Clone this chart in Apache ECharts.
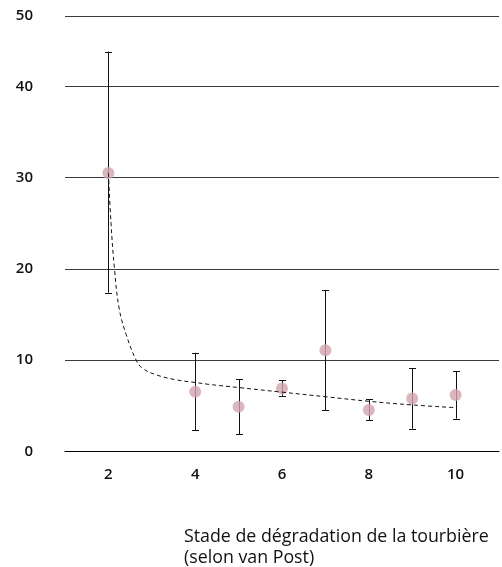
<!DOCTYPE html>
<html>
<head>
<meta charset="utf-8">
<script src="https://cdn.jsdelivr.net/npm/echarts@6/dist/echarts.min.js"></script>
<style>
  html,body{margin:0;padding:0;background:#fff;}
  #main{width:502px;height:567px;}
</style>
</head>
<body>
<div id="main"></div>
<script>
var stages=[2,4,5,6,7,8,9,10];
var means=[30.5,6.55,4.9,6.9,11.1,4.55,5.8,6.2];
var errHigh=[43.8,10.8,7.9,7.8,17.7,5.7,9.1,8.8];
var errLow=[17.4,2.35,1.9,6.1,4.5,3.4,2.5,3.6];

// tendance
var trendX=[2,2.06,2.14,2.25,2.41,2.64,2.79,3.1,3.56,4.02,4.32,5.01,6,7,8,9,10];
var trendY=[30.5,25,20,15.6,12.8,10,9.1,8.4,7.85,7.55,7.35,7.0,6.5,6.0,5.5,5.1,4.8];

var yTicks=[0,10,20,30,40,50];

var myChart=echarts.init(document.getElementById('main'));

var pts=[];
var bars=[];
for(var i=0;i<stages.length;i++){
  pts.push([stages[i],means[i]]);
  bars.push([stages[i],errLow[i],errHigh[i]]);
}
var trend=[];
for(var j=0;j<trendX.length;j++){
  trend.push([trendX[j],trendY[j]]);
}

var font="'Open Sans', 'Noto Sans', sans-serif";

var option={
  animation:false,
  title:{
    text:'Stade de dégradation de la tourbière\n(selon van Post)',
    left:179,
    top:521,
    textStyle:{
      fontFamily:font,
      fontSize:17.8,
      fontWeight:'normal',
      color:'#111',
      lineHeight:21
    }
  },
  grid:{
    left:65,
    right:0,
    top:16,
    bottom:115.5
  },
  xAxis:{
    type:'value',
    min:1,
    max:11,
    interval:1,
    axisLine:{show:true,lineStyle:{color:'#000',width:1}},
    axisTick:{show:false},
    splitLine:{show:false},
    axisLabel:{
      margin:16,
      fontFamily:font,
      fontSize:15,
      fontWeight:600,
      color:'#111',
      formatter:function(v){
        return (v%2===0&&v>=2&&v<=10)?String(v):'';
      }
    }
  },
  yAxis:{
    type:'value',
    min:0,
    max:47.7,
    interval:10,
    axisLine:{show:false},
    axisTick:{show:false},
    splitLine:{lineStyle:{color:'#3a3a3a',width:1}},
    axisLabel:{
      margin:32,
      fontFamily:font,
      fontSize:15,
      fontWeight:600,
      color:'#111',
      formatter:function(v){
        if(v>45) return String(yTicks[5]);
        return String(v);
      }
    }
  },
  series:[
    {
      type:'custom',
      data:bars,
      z:2,
      renderItem:function(params,api){
        var x=api.value(0);
        var lo=api.coord([x,api.value(1)]);
        var hi=api.coord([x,api.value(2)]);
        var cx=Math.round(lo[0])+0.5;
        var cap=3.5;
        var st={stroke:'#111',lineWidth:1};
        return {
          type:'group',
          children:[
            {type:'line',shape:{x1:cx,y1:hi[1],x2:cx,y2:lo[1]},style:st},
            {type:'line',shape:{x1:cx-cap,y1:Math.round(hi[1])+0.5,x2:cx+cap,y2:Math.round(hi[1])+0.5},style:st},
            {type:'line',shape:{x1:cx-cap,y1:Math.round(lo[1])+0.5,x2:cx+cap,y2:Math.round(lo[1])+0.5},style:st}
          ]
        };
      }
    },
    {
      type:'scatter',
      data:pts,
      z:3,
      symbol:'circle',
      symbolSize:12,
      itemStyle:{color:'#d3a4ae'}
    },
    {
      type:'line',
      data:trend,
      z:4,
      showSymbol:false,
      symbol:'none',
      smooth:0.4,
      lineStyle:{color:'#111',width:1,type:[4,3]}
    }
  ]
};
myChart.setOption(option);
</script>
</body>
</html>
